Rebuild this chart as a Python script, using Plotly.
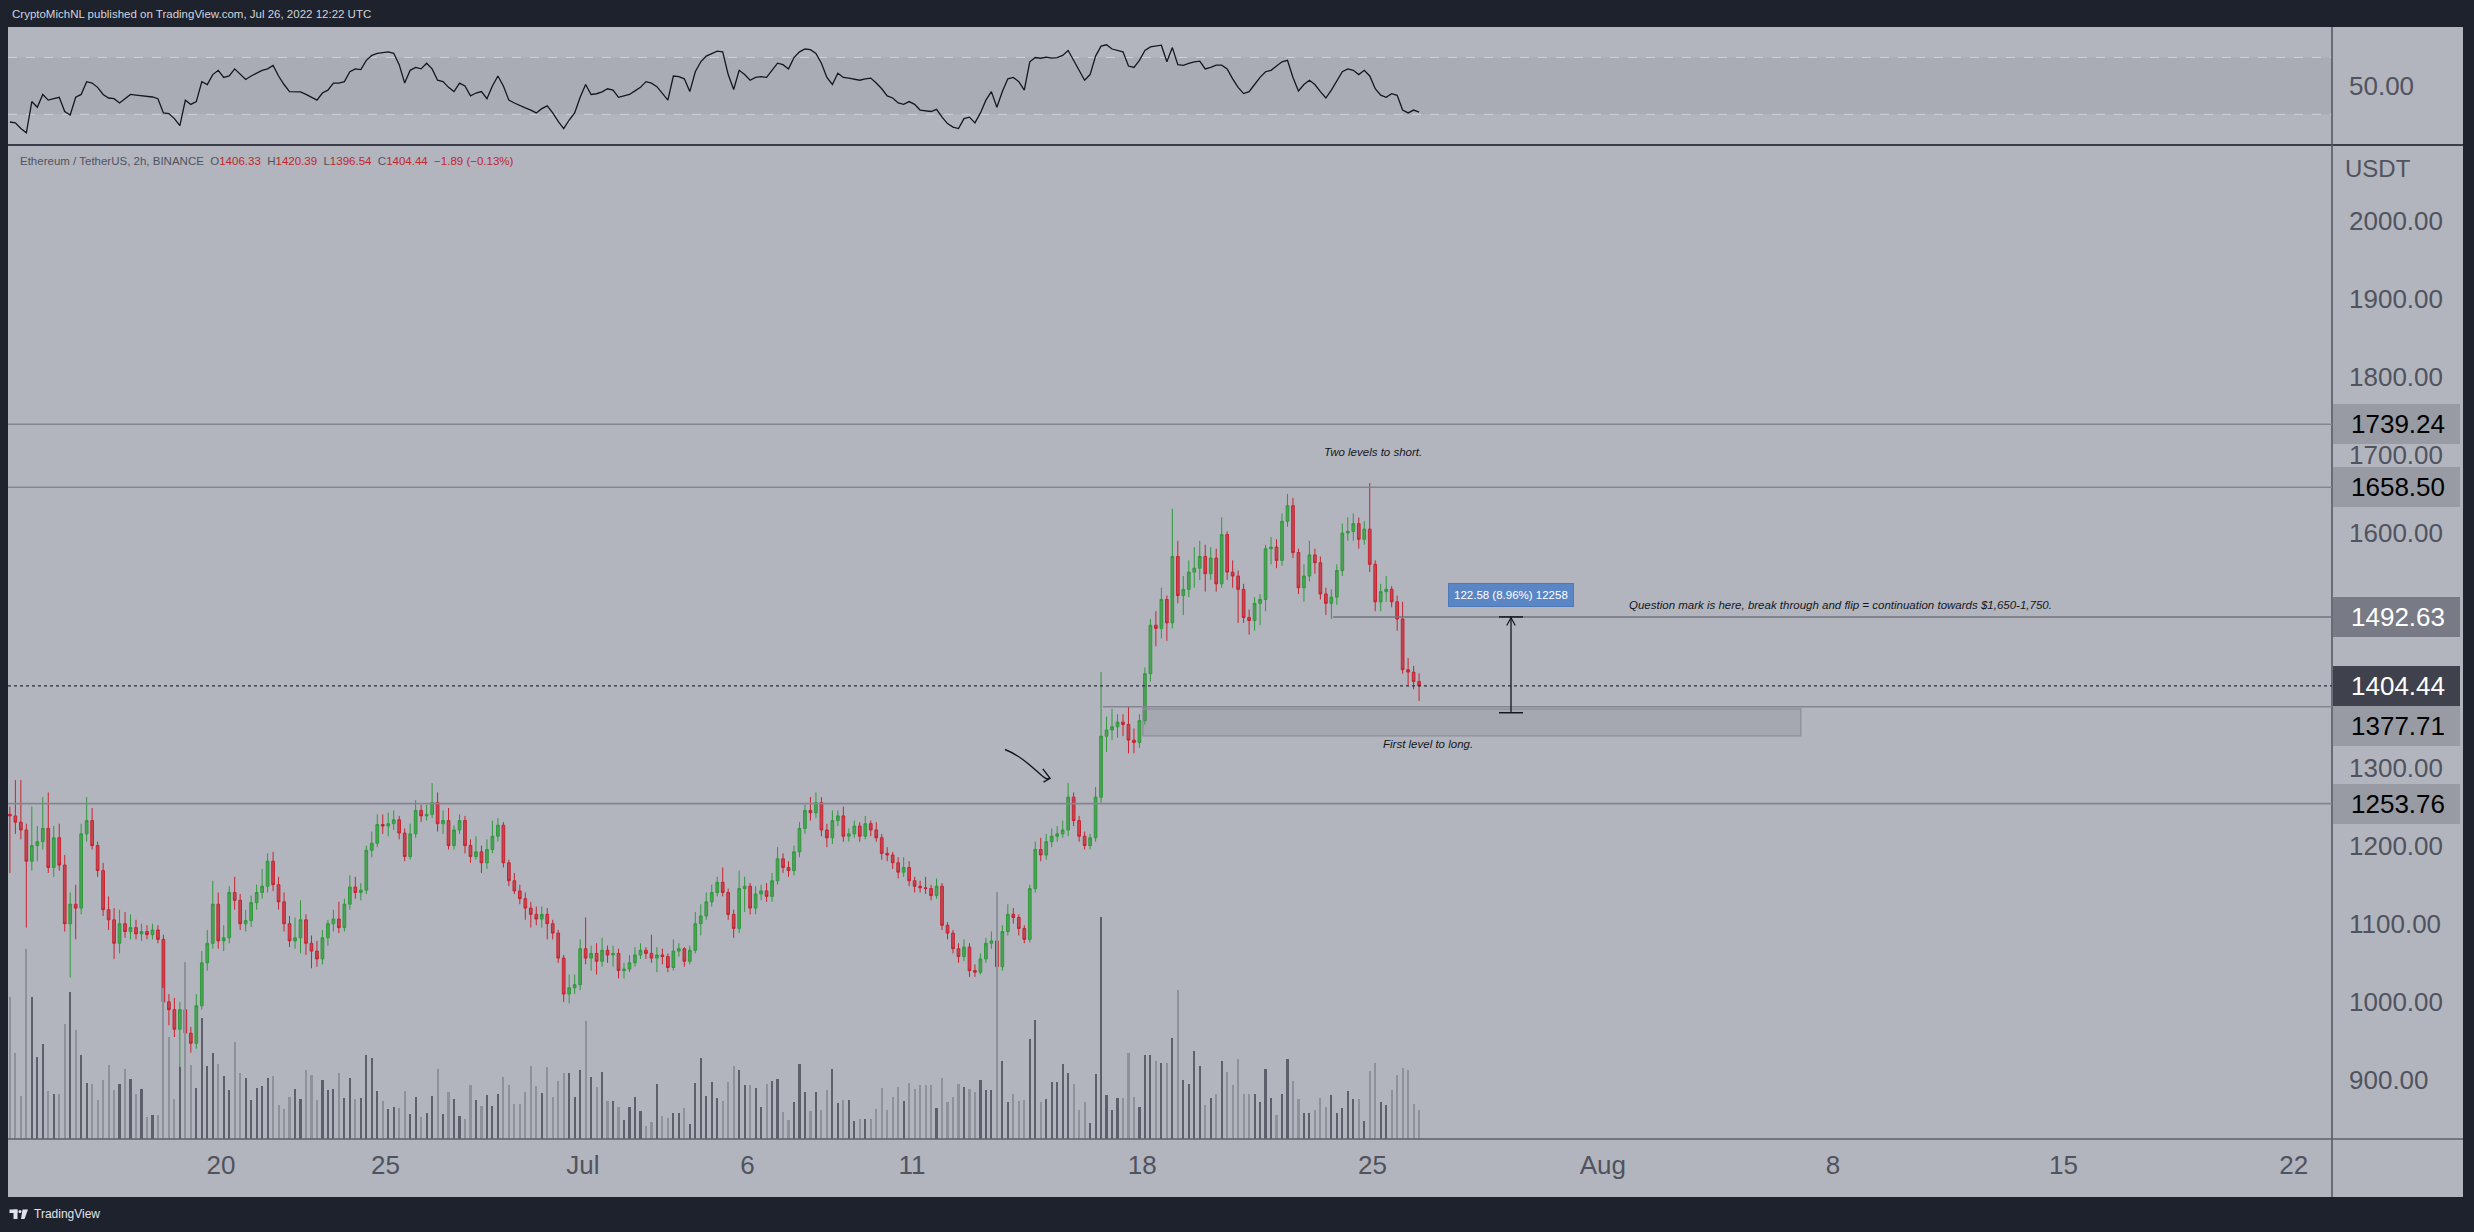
import plotly.graph_objects as go

W, H = 2474, 1232

# ---------------- data (ETH/USDT, 4h bars) ----------------
# x is measured in "June day numbers": Jun 20 00:00 = 20.0, Jul 1 = 31.0, Aug 1 = 62.0
start_day = 13.5          # first bar opens Jun 13 12:00
bar_len = 4 / 24          # 4 hours
first_open = 1240

close = [
    1238, 1230, 1220,
    1180, 1200, 1205, 1222, 1172, 1210,
    1175, 1100, 1125, 1120, 1215, 1232,
    1200, 1168, 1118, 1105, 1075, 1100,
    1090, 1095, 1087, 1090, 1086, 1092,
    1080, 1000, 990, 965, 990, 960,
    947, 995, 1050, 1075, 1125, 1078,
    1082, 1140, 1130, 1100, 1104, 1127,
    1140, 1148, 1180, 1150, 1128, 1100,
    1078, 1082, 1105, 1075, 1065, 1055,
    1082, 1100, 1106, 1095, 1125, 1147,
    1140, 1143, 1194, 1203, 1227, 1225,
    1228, 1233, 1216, 1186, 1215, 1245,
    1238, 1240, 1255, 1228, 1232, 1200,
    1220, 1232, 1200, 1186, 1192, 1178,
    1195, 1212, 1226, 1178, 1155, 1142,
    1132, 1120, 1112, 1106, 1112, 1100,
    1088, 1056, 1010, 1018, 1022, 1068,
    1056, 1062, 1052, 1066, 1060, 1062,
    1040, 1042, 1050, 1060, 1066, 1062,
    1056, 1060, 1058, 1044, 1065, 1068,
    1052, 1066, 1100, 1110, 1128, 1140,
    1153, 1140, 1112, 1094, 1145, 1148,
    1120, 1138, 1142, 1135, 1155, 1183,
    1172, 1168, 1192, 1222, 1245, 1242,
    1255, 1220, 1210, 1232, 1238, 1212,
    1215, 1225, 1212, 1228, 1220, 1210,
    1190, 1188, 1178, 1166, 1172, 1155,
    1148, 1146, 1145, 1136, 1148, 1098,
    1088, 1068, 1058, 1070, 1040, 1038,
    1055, 1075, 1078, 1045, 1090, 1112,
    1108, 1094, 1080, 1145, 1195, 1188,
    1205, 1212, 1215, 1220, 1262, 1232,
    1212, 1200, 1210, 1262, 1340, 1348,
    1352, 1358, 1355, 1335, 1332, 1360,
    1420, 1482, 1478, 1515, 1485, 1570,
    1520, 1528, 1550, 1555, 1570, 1548,
    1568, 1535, 1598, 1550, 1545, 1528,
    1492, 1488, 1510, 1515, 1580, 1582,
    1565, 1615, 1635, 1575, 1530, 1545,
    1572, 1562, 1522, 1510, 1518, 1552,
    1600, 1602, 1612, 1592, 1605, 1560,
    1512, 1525, 1528, 1512, 1490, 1425,
    1422, 1410, 1404.44,
]

high = [
    1250, 1284, 1284, 1228, 1250, 1225, 1262, 1268, 1225, 1228,
    1188, 1140, 1150, 1228, 1262, 1248, 1205, 1178, 1135, 1120,
    1118, 1115, 1112, 1105, 1100, 1098, 1100, 1098, 1086, 1010,
    1005, 1000, 1030, 968, 1010, 1065, 1092, 1155, 1140, 1098,
    1148, 1160, 1138, 1118, 1136, 1150, 1170, 1190, 1192, 1160,
    1140, 1110, 1108, 1130, 1112, 1085, 1078, 1092, 1105, 1118,
    1128, 1132, 1162, 1160, 1152, 1200, 1218, 1240, 1240, 1242,
    1245, 1238, 1222, 1228, 1258, 1252, 1252, 1280, 1268, 1245,
    1248, 1226, 1240, 1238, 1208, 1212, 1200, 1208, 1232, 1235,
    1230, 1182, 1165, 1150, 1140, 1128, 1122, 1122, 1120, 1105,
    1092, 1060, 1035, 1035, 1080, 1108, 1072, 1075, 1082, 1072,
    1072, 1068, 1050, 1060, 1070, 1075, 1070, 1086, 1070, 1068,
    1062, 1080, 1075, 1070, 1072, 1115, 1125, 1140, 1150, 1160,
    1172, 1145, 1118, 1168, 1160, 1152, 1148, 1150, 1152, 1165,
    1198, 1190, 1180, 1200, 1230, 1252, 1262, 1268, 1262, 1228,
    1245, 1245, 1250, 1222, 1232, 1230, 1238, 1232, 1230, 1215,
    1198, 1192, 1185, 1185, 1180, 1160, 1155, 1160, 1150, 1158,
    1152, 1102, 1092, 1075, 1080, 1075, 1048, 1062, 1082, 1090,
    1108, 1098, 1125, 1120, 1112, 1098, 1150, 1205, 1210, 1215,
    1222, 1225, 1232, 1280, 1268, 1238, 1218, 1215, 1275, 1422,
    1365, 1375, 1368, 1368, 1378, 1350, 1368, 1428, 1490, 1500,
    1530, 1520, 1631, 1590, 1545, 1565, 1582, 1590, 1585, 1582,
    1580, 1620, 1602, 1565, 1552, 1535, 1502, 1518, 1522, 1585,
    1595, 1592, 1625, 1650, 1645, 1580, 1560, 1590, 1580, 1570,
    1530, 1528, 1560, 1612, 1620, 1625, 1620, 1615, 1664, 1565,
    1535, 1545, 1532, 1520, 1512, 1440, 1430, 1420.39,
]

low = [
    1165, 1215, 1208, 1095, 1168, 1180, 1195, 1165, 1160, 1168,
    1090, 1031, 1080, 1112, 1205, 1195, 1160, 1110, 1092, 1055,
    1062, 1082, 1080, 1080, 1078, 1080, 1080, 1075, 995, 970,
    955, 881, 945, 935, 940, 990, 1040, 1068, 1068, 1065,
    1075, 1118, 1092, 1090, 1096, 1118, 1132, 1140, 1142, 1118,
    1090, 1070, 1068, 1062, 1060, 1043, 1045, 1048, 1072, 1090,
    1088, 1090, 1118, 1132, 1130, 1138, 1185, 1198, 1215, 1212,
    1220, 1208, 1180, 1182, 1210, 1230, 1232, 1235, 1218, 1215,
    1195, 1195, 1215, 1190, 1178, 1182, 1165, 1170, 1190, 1205,
    1172, 1148, 1138, 1125, 1105, 1095, 1098, 1095, 1080, 1080,
    1050, 1000, 998, 1010, 1015, 1048, 1040, 1035, 1045, 1050,
    1045, 1030, 1030, 1038, 1045, 1055, 1055, 1050, 1038, 1048,
    1038, 1040, 1058, 1045, 1048, 1062, 1085, 1105, 1122, 1135,
    1135, 1105, 1082, 1088, 1115, 1112, 1112, 1130, 1128, 1128,
    1150, 1165, 1160, 1162, 1185, 1215, 1232, 1235, 1212, 1198,
    1202, 1225, 1205, 1205, 1210, 1205, 1208, 1212, 1205, 1182,
    1180, 1170, 1158, 1160, 1148, 1140, 1140, 1138, 1130, 1132,
    1092, 1080, 1062, 1050, 1052, 1032, 1032, 1035, 1050, 1068,
    1006, 1040, 1085, 1100, 1085, 1075, 1076, 1140, 1180, 1182,
    1198, 1205, 1210, 1212, 1225, 1205, 1195, 1195, 1205, 1255,
    1320, 1335, 1338, 1340, 1318, 1318, 1325, 1355, 1410, 1455,
    1465, 1462, 1478, 1510, 1495, 1518, 1530, 1540, 1525, 1540,
    1525, 1530, 1540, 1530, 1485, 1485, 1470, 1475, 1482, 1500,
    1560, 1555, 1558, 1608, 1568, 1522, 1512, 1538, 1548, 1515,
    1495, 1490, 1508, 1545, 1590, 1590, 1580, 1585, 1550, 1500,
    1500, 1512, 1505, 1475, 1420, 1405, 1400, 1385,
]

volume_k = [
    142, 86, 43, 190, 142, 82, 95, 48, 45, 45,
    115, 147, 109, 84, 56, 55, 39, 59, 74, 49,
    55, 70, 60, 45, 50, 22, 24, 24, 151, 102,
    40, 72, 177, 74, 51, 121, 73, 86, 75, 63,
    49, 97, 66, 61, 39, 51, 53, 61, 63, 34,
    30, 42, 50, 40, 69, 64, 39, 59, 49, 50,
    66, 41, 61, 40, 41, 84, 81, 48, 38, 30,
    32, 31, 48, 25, 42, 22, 26, 43, 70, 25,
    47, 40, 23, 20, 54, 39, 33, 44, 33, 45,
    62, 54, 35, 35, 47, 73, 53, 46, 72, 42,
    58, 66, 66, 42, 69, 118, 62, 52, 67, 38,
    38, 32, 19, 32, 42, 28, 13, 17, 55, 23,
    21, 26, 26, 31, 15, 56, 81, 43, 57, 41,
    38, 57, 73, 69, 54, 54, 51, 32, 55, 58,
    60, 27, 19, 37, 75, 47, 28, 47, 29, 49,
    70, 36, 39, 39, 18, 20, 20, 20, 30, 51,
    29, 42, 52, 38, 56, 50, 54, 54, 54, 31,
    61, 37, 42, 55, 52, 50, 47, 59, 49, 49,
    247, 78, 37, 45, 38, 39, 100, 119, 37, 40,
    57, 57, 75, 66, 55, 29, 37, 16, 65, 222,
    44, 29, 41, 41, 86, 42, 32, 84, 84, 78,
    76, 76, 101, 149, 59, 55, 88, 73, 34, 41,
    45, 78, 67, 54, 80, 45, 45, 45, 37, 70,
    41, 24, 45, 80, 58, 40, 26, 26, 29, 41,
    32, 44, 26, 31, 48, 40, 40, 18, 68, 76,
    37, 34, 49, 64, 71, 69, 35, 29,
]

rsi = [
    24.6, 24, 20, 17, 39, 35, 44, 40, 41, 42,
    32, 29.5, 42, 44, 53, 52, 49, 44, 41.5, 41,
    38, 41, 44, 43.5, 43, 42.2, 42.2, 41, 31, 30.5,
    27, 22, 40, 37, 39, 53, 51, 58, 61, 56,
    57, 62, 58, 54.5, 57, 59, 61, 62, 64.5, 57,
    51, 46, 46, 45.8, 44, 42, 40, 45, 47, 52,
    52, 53, 60, 62, 61.5, 68, 71.5, 73, 73.5, 74,
    73, 65, 52, 61, 63, 62, 66, 62, 54, 53,
    49, 46, 52, 50, 43, 45, 46, 41, 50, 57,
    50, 40, 38, 36, 34.5, 33, 31, 34, 36, 31,
    25, 20, 26, 31, 42, 51, 44, 44.5, 45.8, 48,
    47, 42, 43, 44, 46.5, 49, 53, 52, 49.5, 45,
    40, 57, 56.5, 55, 46, 60, 67, 71, 73, 74.5,
    74, 58, 47.5, 61, 58, 54, 56, 56.5, 56, 61,
    66, 65, 62, 70, 74, 76, 75.5, 72.8, 66, 56,
    51, 59, 56, 55.5, 54.8, 54, 55, 55.5, 52, 48,
    43, 41.5, 38, 37, 39, 37, 33, 32.5, 32, 33.5,
    28, 23.5, 21, 20, 27, 28, 24, 31, 40, 46,
    35, 46, 55, 56, 53, 47, 67, 70, 69.5, 70.3,
    69.6, 70, 71.5, 75, 68, 60, 54, 58, 71, 78,
    79, 76, 75, 74, 64, 63, 68, 75, 77.5, 78.2,
    78.7, 67, 77, 65, 64.5, 65.8, 67, 67.5, 62, 63,
    64.6, 64.6, 62, 55, 49, 44.6, 46, 51, 56, 60,
    61, 64, 67, 68, 56, 46.5, 51, 54, 51, 46,
    41.5, 47, 54, 60, 62, 61, 58, 61, 57, 48,
    43.5, 42, 44.6, 43.4, 33, 31, 33, 31.6,
]

tick_days = [20, 25, 31, 36, 41, 48, 55, 62, 69, 76, 83]
tick_text = ["20", "25", "Jul", "6", "11", "18", "25", "Aug", "8", "15", "22"]
# 1400 and 1500 are hidden behind the price labels in the original
price_ticks = [900, 1000, 1100, 1200, 1300, 1600, 1700, 1800, 1900, 2000]

levels_full = [1739.24, 1658.50, 1253.76]
level_flip = 1492.63
level_flip_start = 53.80
level_long = 1377.71
level_long_start = 46.81
last_price = 1404.44
long_zone = (48.02, 68.02, 1340.3, 1374.8)
measure_day = 59.21
measure_top = 1492.63
measure_bottom = 1370.05
arrow_x = [43.83, 44.25, 44.55, 44.85, 45.20]
arrow_y = [1323.0, 1316.0, 1304.5, 1293.3, 1286.2]

# ---------------- derived series ----------------
n = len(close)
opens = [first_open] + close[:-1]
xc = [start_day + i * bar_len + bar_len / 2 for i in range(n)]
vol_colors = ["#5d606b" if c >= o else "#8e9199" for o, c in zip(opens, close)]

# ---------------- geometry helpers ----------------
def PX(px):
    return px / W

def PY(py):
    return 1 - py / H

PLOT_L, PLOT_R = 8, 2332
RSI_T, MAIN_T, MAIN_B, XAX_B = 27, 145, 1139, 1197
x_range = [13.526, 84.165]
y_range = [824.5, 2096.6]
rsi_range = [8.4, 91.5]
ppp = (MAIN_B - MAIN_T) / (y_range[1] - y_range[0])

BG = "#b2b5be"
DARK = "#1e222d"
AXIS_TXT = "#50535e"
FONT = "Liberation Sans"

fig = go.Figure()

fig.add_trace(go.Bar(
    x=xc, y=volume_k, marker=dict(color=vol_colors, line=dict(width=0)),
    width=0.065, yaxis="y2", xaxis="x", hoverinfo="skip", showlegend=False,
))
fig.add_trace(go.Candlestick(
    x=xc, open=opens, high=high, low=low, close=close,
    increasing=dict(line=dict(color="#2f9a3a", width=1), fillcolor="rgba(47,154,58,0.75)"),
    decreasing=dict(line=dict(color="#c8232f", width=1), fillcolor="rgba(200,35,47,0.75)"),
    whiskerwidth=0, hoverinfo="skip", showlegend=False, xaxis="x", yaxis="y",
))
fig.add_trace(go.Scatter(
    x=xc, y=rsi, mode="lines", line=dict(color="#131722", width=1.3),
    xaxis="x", yaxis="y3", hoverinfo="skip", showlegend=False,
))

shapes = []
# page chrome
shapes += [
    dict(type="rect", xref="paper", yref="paper", x0=0, x1=1, y0=PY(RSI_T), y1=1,
         fillcolor=DARK, line=dict(width=0), layer="below"),
    dict(type="rect", xref="paper", yref="paper", x0=0, x1=1, y0=0, y1=PY(XAX_B),
         fillcolor=DARK, line=dict(width=0), layer="below"),
    dict(type="rect", xref="paper", yref="paper", x0=0, x1=PX(PLOT_L), y0=0, y1=1,
         fillcolor=DARK, line=dict(width=0), layer="below"),
    dict(type="rect", xref="paper", yref="paper", x0=PX(2463), x1=1, y0=0, y1=1,
         fillcolor=DARK, line=dict(width=0), layer="below"),
]
# RSI band 30-70
shapes.append(dict(type="rect", xref="paper", yref="y3", x0=PX(PLOT_L), x1=PX(PLOT_R), y0=30, y1=70,
                   fillcolor="rgba(110,113,124,0.13)", line=dict(width=0), layer="below"))
for lv in (30, 70):
    shapes.append(dict(type="line", xref="paper", yref="y3", x0=PX(PLOT_L), x1=PX(PLOT_R), y0=lv, y1=lv,
                       line=dict(color="rgba(225,227,232,0.65)", width=1, dash="dash"), layer="below"))
# separators
shapes += [
    dict(type="line", xref="paper", yref="paper", x0=PX(PLOT_L), x1=PX(2463), y0=PY(MAIN_T), y1=PY(MAIN_T),
         line=dict(color="#3c3f4a", width=2)),
    dict(type="line", xref="paper", yref="paper", x0=PX(PLOT_R), x1=PX(PLOT_R), y0=PY(XAX_B), y1=PY(RSI_T),
         line=dict(color="#50535e", width=1.5)),
    dict(type="line", xref="paper", yref="paper", x0=PX(PLOT_L), x1=PX(2463), y0=PY(MAIN_B), y1=PY(MAIN_B),
         line=dict(color="#5d606b", width=1.5)),
]
# horizontal levels
for lv in levels_full:
    shapes.append(dict(type="line", xref="paper", yref="y", x0=PX(PLOT_L), x1=PX(PLOT_R), y0=lv, y1=lv,
                       line=dict(color="#83868f", width=1.6)))
shapes.append(dict(type="line", xref="x", yref="y", x0=level_flip_start, x1=x_range[1], y0=level_flip, y1=level_flip,
                   line=dict(color="#70737c", width=1.6)))
shapes.append(dict(type="line", xref="x", yref="y", x0=level_long_start, x1=x_range[1], y0=level_long, y1=level_long,
                   line=dict(color="#83868f", width=1.6)))
shapes.append(dict(type="line", xref="paper", yref="y", x0=PX(PLOT_L), x1=PX(PLOT_R), y0=last_price, y1=last_price,
                   line=dict(color="#2a2e39", width=1.2, dash="dot")))
# long zone box
shapes.append(dict(type="rect", xref="x", yref="y", x0=long_zone[0], x1=long_zone[1], y0=long_zone[2], y1=long_zone[3],
                   fillcolor="rgba(120,123,134,0.22)", line=dict(color="#8d9098", width=1.3)))
# measurement tool
cap = 0.365
shapes += [
    dict(type="line", xref="x", yref="y", x0=measure_day, x1=measure_day, y0=measure_bottom, y1=measure_top,
         line=dict(color="#131722", width=1.3)),
    dict(type="line", xref="x", yref="y", x0=measure_day - cap, x1=measure_day + cap, y0=measure_top, y1=measure_top,
         line=dict(color="#131722", width=1.5)),
    dict(type="line", xref="x", yref="y", x0=measure_day - cap, x1=measure_day + cap, y0=measure_bottom, y1=measure_bottom,
         line=dict(color="#131722", width=1.5)),
    dict(type="path", xref="x", yref="y",
         path=f"M {measure_day-0.13},{measure_top-11} L {measure_day},{measure_top-1} L {measure_day+0.13},{measure_top-11}",
         line=dict(color="#131722", width=1.2)),
]
# hand-drawn curved arrow
path = (f"M {arrow_x[0]},{arrow_y[0]} C {arrow_x[1]},{arrow_y[1]} {arrow_x[2]},{arrow_y[2]} "
        f"{arrow_x[3]},{arrow_y[3]} S {arrow_x[4]-0.1},{arrow_y[4]} {arrow_x[4]},{arrow_y[4]}")
shapes.append(dict(type="path", xref="x", yref="y", path=path, line=dict(color="#131722", width=1.4)))
shapes.append(dict(type="path", xref="x", yref="y",
                   path=(f"M {arrow_x[4]-0.22},{arrow_y[4]+12} L {arrow_x[4]},{arrow_y[4]} "
                         f"L {arrow_x[4]-0.2},{arrow_y[4]-5}"),
                   line=dict(color="#131722", width=1.4)))

# logo (page chrome)
shapes += [
    dict(type="rect", xref="paper", yref="paper", x0=PX(9.5), x1=PX(17.5), y0=PY(1213), y1=PY(1209.5),
         fillcolor="#e0e3eb", line=dict(width=0)),
    dict(type="rect", xref="paper", yref="paper", x0=PX(13.5), x1=PX(17.5), y0=PY(1219), y1=PY(1209.5),
         fillcolor="#e0e3eb", line=dict(width=0)),
    dict(type="circle", xref="paper", yref="paper", x0=PX(18.5), x1=PX(21.5), y0=PY(1213), y1=PY(1210),
         fillcolor="#e0e3eb", line=dict(width=0)),
    dict(type="path", xref="paper", yref="paper",
         path=f"M {PX(22.5)},{PY(1209.5)} L {PX(28)},{PY(1209.5)} L {PX(24.5)},{PY(1219)} L {PX(21)},{PY(1219)} Z",
         fillcolor="#e0e3eb", line=dict(width=0)),
]

annotations = []
# right-scale price labels (stacked like the original so they do not overlap)
label_specs = [
    (1739.24, "#989ba3", "#000000"),
    (1658.50, "#989ba3", "#000000"),
    (1492.63, "#787b86", "#ffffff"),
    (1404.44, "#3f424d", "#ffffff"),
    (1377.71, "#989ba3", "#000000"),
    (1253.76, "#989ba3", "#000000"),
]
box_h = 40
prev_center_px = None
for price, bg, fg in label_specs:
    center_px = MAIN_B - (price - y_range[0]) * ppp
    if prev_center_px is not None and center_px - prev_center_px < box_h:
        center_px = prev_center_px + box_h
    prev_center_px = center_px
    ylab = y_range[0] + (MAIN_B - center_px) / ppp
    annotations.append(dict(xref="paper", yref="y", x=PX(PLOT_R + 1), y=ylab, xanchor="left", yanchor="middle",
                            text="\u00a0", showarrow=False, bgcolor=bg, width=127, height=box_h,
                            borderpad=0, borderwidth=0, font=dict(size=10)))
    annotations.append(dict(xref="paper", yref="y", x=PX(2349), y=ylab, xanchor="left", yanchor="middle",
                            text=f"{price:.2f}", showarrow=False, font=dict(family=FONT, size=26, color=fg)))

nb = "\u00a0"
red = "#c0262f"
gray = "#50535e"
legend_txt = (
    f"<span style='color:{gray}'>Ethereum / TetherUS, 2h, BINANCE{nb}{nb}O</span>"
    f"<span style='color:{red}'>1406.33</span><span style='color:{gray}'>{nb}{nb}H</span>"
    f"<span style='color:{red}'>1420.39</span><span style='color:{gray}'>{nb}{nb}L</span>"
    f"<span style='color:{red}'>1396.54</span><span style='color:{gray}'>{nb}{nb}C</span>"
    f"<span style='color:{red}'>1404.44{nb}{nb}\u22121.89 (\u22120.13%)</span>"
)

annotations += [
    dict(xref="paper", yref="paper", x=PX(10), y=PY(14), xanchor="left", yanchor="middle", showarrow=False,
         text="CryptoMichNL published on TradingView.com, Jul 26, 2022 12:22 UTC",
         font=dict(family=FONT, size=11.5, color="#d1d4dc")),
    dict(xref="paper", yref="paper", x=PX(18), y=PY(161), xanchor="left", yanchor="middle", showarrow=False,
         text=legend_txt, font=dict(family=FONT, size=11.5, color=gray)),
    dict(xref="paper", yref="paper", x=PX(32), y=PY(1214), xanchor="left", yanchor="middle", showarrow=False,
         text="TradingView", font=dict(family=FONT, size=12, color="#e0e3eb")),
    dict(xref="paper", yref="paper", x=PX(2343), y=PY(168), xanchor="left", yanchor="middle", showarrow=False,
         text="USDT", font=dict(family=FONT, size=24, color=AXIS_TXT)),
    dict(xref="x", yref="y", x=55.02, y=1703.7, showarrow=False, text="<i>Two levels to short.</i>",
         font=dict(family=FONT, size=11.5, color="#131722")),
    dict(xref="x", yref="y", x=69.22, y=1507.9, showarrow=False,
         text="<i>Question mark is here, break through and flip = continuation towards $1,650-1,750.</i>",
         font=dict(family=FONT, size=11.5, color="#131722")),
    dict(xref="x", yref="y", x=56.70, y=1330.0, showarrow=False, text="<i>First level to long.</i>",
         font=dict(family=FONT, size=11.5, color="#131722")),
    dict(xref="x", yref="y", x=measure_day, y=1520.1, showarrow=False, text="122.58 (8.96%) 12258",
         font=dict(family=FONT, size=11.5, color="#ffffff"), bgcolor="#5a86c5",
         bordercolor="#4e79b8", borderwidth=1, borderpad=5),
]

fig.update_layout(
    width=W, height=H, autosize=False,
    margin=dict(l=0, r=0, t=0, b=0),
    paper_bgcolor=BG, plot_bgcolor=BG,
    hovermode=False, showlegend=False, bargap=0,
    xaxis=dict(domain=[PX(PLOT_L), PX(PLOT_R)], range=x_range, anchor="y",
               tickmode="array", tickvals=tick_days, ticktext=tick_text,
               showgrid=False, zeroline=False, showline=False, ticks="",
               tickfont=dict(family=FONT, size=26, color=AXIS_TXT), ticklabelstandoff=8,
               rangeslider=dict(visible=False), fixedrange=True),
    yaxis=dict(domain=[PY(MAIN_B), PY(MAIN_T)], range=y_range, side="right", anchor="x",
               tickmode="array", tickvals=price_ticks, ticktext=[f"{p:.2f}" for p in price_ticks],
               showgrid=False, zeroline=False, showline=False, ticks="",
               tickfont=dict(family=FONT, size=26, color=AXIS_TXT), ticklabelstandoff=16, fixedrange=True),
    yaxis2=dict(domain=[PY(MAIN_B), PY(MAIN_T)], range=[0, MAIN_B - MAIN_T], overlaying="y",
                visible=False, fixedrange=True),
    yaxis3=dict(domain=[PY(MAIN_T), PY(RSI_T)], range=rsi_range, side="right", anchor="x",
                tickmode="array", tickvals=[50], ticktext=["50.00"],
                showgrid=False, zeroline=False, showline=False, ticks="",
                tickfont=dict(family=FONT, size=26, color=AXIS_TXT), ticklabelstandoff=16, fixedrange=True),
    shapes=shapes, annotations=annotations,
)

fig.write_html("out.html", config={"displayModeBar": False, "staticPlot": True},
               post_script="document.body.style.margin='0';document.body.style.overflow='hidden';")
